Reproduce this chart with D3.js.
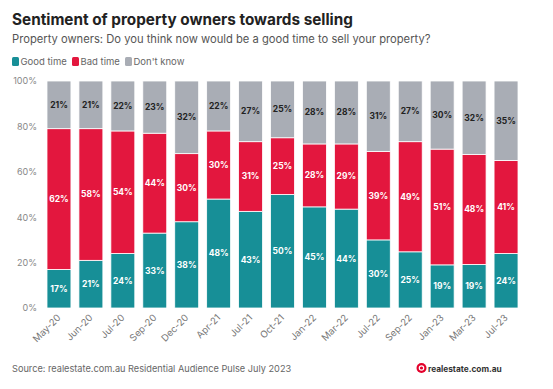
<!DOCTYPE html>
<html>
<head>
<meta charset="utf-8">
<script src="https://cdn.jsdelivr.net/npm/d3@7"></script>
<style>
  body { margin: 0; background: #fff; }
  svg { font-family: "Inter", "Noto Sans", sans-serif; }
</style>
</head>
<body>
<div class="canvas"></div>
<script>
const months = ['May-20', 'Jun-20', 'Jul-20', 'Sep-20', 'Dec-20', 'Apr-21', 'Jul-21', 'Oct-21',
    'Jan-22', 'Mar-22', 'Jul-22', 'Sep-22', 'Jan-23', 'Mar-23', 'Jul-23'];
const goodTime = [17, 21, 24, 33, 38, 48, 43, 50, 45, 44, 30, 25, 19, 19, 24];
const badTime  = [62, 58, 54, 44, 30, 30, 31, 25, 28, 29, 39, 49, 51, 48, 41];
const dontKnow = [21, 21, 22, 23, 32, 22, 27, 25, 28, 28, 31, 27, 30, 32, 35];
const seriesNames = ['Good time', 'Bad time', "Don't know"];
const yTicks = [0, 0.2, 0.4, 0.6, 0.8, 1];

const colors = {'Good time': '#178f97', 'Bad time': '#e3173e', "Don't know": '#a9adb5'};

const width = 553, height = 389;
const svg = d3.select('.canvas')
    .append('svg')
    .attr('width', width)
    .attr('height', height);

// title + subtitle
svg.append('text')
    .attr('x', 12).attr('y', 25)
    .attr('font-size', 15.3).attr('font-weight', 700).attr('fill', '#222')
    .text('Sentiment of property owners towards selling');
svg.append('text')
    .attr('x', 12).attr('y', 43)
    .attr('font-size', 11.2).attr('fill', '#555')
    .text('Property owners: Do you think now would be a good time to sell your property?');

// legend
const legendX = [12, 72, 125];
const legend = svg.selectAll('.legend')
    .data(seriesNames)
    .enter().append('g')
    .attr('transform', (d, i) => `translate(${legendX[i]}, 57)`);
legend.append('rect')
    .attr('width', 7).attr('height', 9).attr('rx', 1.5)
    .attr('fill', d => colors[d]);
legend.append('text')
    .attr('x', 8.5).attr('y', 8)
    .attr('font-size', 9.5).attr('fill', '#666')
    .text(d => d);

// data table for stack
const table = months.map((m, i) => ({
    month: m,
    'Good time': goodTime[i],
    'Bad time': badTime[i],
    "Don't know": dontKnow[i]
}));

const stack = d3.stack()
    .keys(seriesNames)
    .offset(d3.stackOffsetExpand);
const series = stack(table);

const margin = {top: 81, left: 43, right: 31, bottom: 81};
const graphHeight = height - margin.top - margin.bottom;

const x = d3.scaleBand()
    .domain(months)
    .range([margin.left, width - margin.right])
    .paddingInner(0.25)
    .paddingOuter(0.125);

const y = d3.scaleLinear()
    .domain([0, 1])
    .range([margin.top + graphHeight, margin.top]);

// y axis
const yAxis = d3.axisLeft(y)
    .tickValues(yTicks)
    .tickFormat(d3.format('.0%'))
    .tickSize(0)
    .tickPadding(0);
const yAxisGroup = svg.append('g')
    .attr('transform', 'translate(37, 0)')
    .call(yAxis);
yAxisGroup.select('.domain').remove();
yAxisGroup.selectAll('text')
    .attr('font-family', '"Inter", "Noto Sans", sans-serif')
    .attr('font-size', 9)
    .attr('fill', '#888');

// bars
const groups = svg.selectAll('.series')
    .data(series)
    .enter().append('g')
    .attr('fill', d => colors[d.key]);

groups.selectAll('rect')
    .data(d => d)
    .enter().append('rect')
    .attr('x', d => x(d.data.month))
    .attr('width', x.bandwidth())
    .attr('y', d => y(d[1]))
    .attr('height', d => y(d[0]) - y(d[1]))
    .attr('stroke', '#fff')
    .attr('stroke-width', 0.8);

// value labels
groups.selectAll('.val')
    .data(s => s.map(d => ({key: s.key, d: d})))
    .enter().append('text')
    .attr('x', o => x(o.d.data.month) + x.bandwidth() / 2)
    .attr('y', o => (y(o.d[0]) + y(o.d[1])) / 2)
    .attr('dy', '0.35em')
    .attr('text-anchor', 'middle')
    .attr('font-size', 8.5)
    .attr('font-weight', 700)
    .attr('fill', o => o.key === "Don't know" ? '#222' : '#fff')
    .text(o => o.d.data[o.key] + '%');

// x axis
const xAxis = d3.axisBottom(x).tickSize(0).tickPadding(0);
const xAxisGroup = svg.append('g')
    .attr('transform', `translate(0, ${margin.top + graphHeight + 8})`)
    .call(xAxis);
xAxisGroup.select('.domain').remove();
xAxisGroup.selectAll('text')
    .attr('font-family', '"Inter", "Noto Sans", sans-serif')
    .attr('font-size', 9.5)
    .attr('fill', '#777')
    .attr('dy', '0.35em')
    .attr('transform', 'rotate(-45)')
    .attr('text-anchor', 'end');

// source
svg.append('text')
    .attr('x', 12).attr('y', 372)
    .attr('font-size', 9.2).attr('fill', '#666')
    .text('Source: realestate.com.au Residential Audience Pulse July 2023');

// logo
svg.append('circle')
    .attr('cx', 421.5).attr('cy', 368).attr('r', 5)
    .attr('fill', '#e4002b');
svg.append('circle')
    .attr('cx', 421.5).attr('cy', 368).attr('r', 2.2)
    .attr('fill', 'none').attr('stroke', '#fff').attr('stroke-width', 1.2);
svg.append('text')
    .attr('x', 428).attr('y', 371.5)
    .attr('font-size', 8.3).attr('font-weight', 700).attr('fill', '#333')
    .text('realestate.com.au');
</script>
</body>
</html>
